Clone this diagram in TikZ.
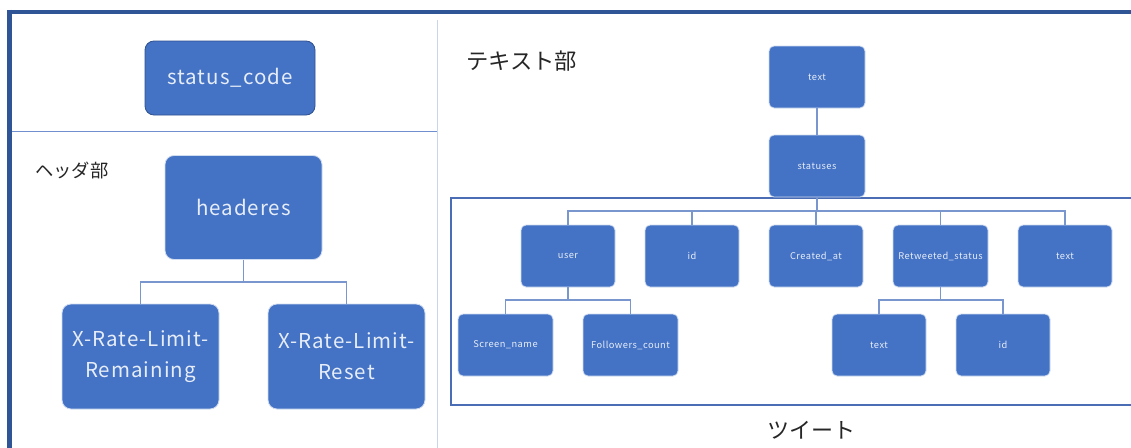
\documentclass[tikz,border=0pt]{standalone}
\usepackage{fontspec}
\setmainfont{Noto Sans CJK JP}
\newfontfamily\labfont{Noto Sans CJK JP}[LetterSpace=5]
\usetikzlibrary{calc}
\definecolor{boxfill}{HTML}{4472C4}
\definecolor{boxedge}{HTML}{2F528F}
\definecolor{frameblue}{HTML}{2F5597}
\definecolor{linkblue}{HTML}{7A96CE}
\definecolor{divlight}{HTML}{C9D5EC}
\definecolor{divmid}{HTML}{6F8FCF}
\definecolor{tweetframe}{HTML}{4A6DB5}
\definecolor{labelwhite}{HTML}{E6EDF9}
\definecolor{jptext}{HTML}{262626}
\tikzset{
  box/.style={rectangle, rounded corners=7pt, fill=boxfill, draw=white!75!boxfill, line width=0.8pt,
    text=labelwhite, align=center, inner sep=0pt},
  bigbox/.style={box, font=\labfont\fontsize{20.5}{31}\selectfont},
  smallbox/.style={box, rounded corners=5pt, minimum width=94pt, minimum height=62pt, font=\labfont\fontsize{9.3}{10}\selectfont},
  link/.style={draw=linkblue, line width=1.2pt},
  jp/.style={text=jptext, anchor=west, inner sep=0pt},
}
\begin{document}
\begin{tikzpicture}[x=1pt,y=-1pt]
\useasboundingbox (0,0) rectangle (1131,447);
\fill[white] (0,0) rectangle (1131,447);
% outer frame
\draw[frameblue, line width=4pt] (7,11.5) -- (1135,11.5);
\draw[frameblue, line width=4.5pt] (9.5,9.5) -- (9.5,450);
% dividers
\draw[divlight, line width=1.5pt] (437.5,20) -- (437.5,450);
\draw[divmid, line width=1pt] (12,131) -- (437,131);
% tweet frame
\draw[tweetframe, line width=1.4pt] (1136,198) -- (451,198) -- (451,405) -- (1136,405);

% left side
\node[bigbox, draw=boxedge, minimum width=170pt, minimum height=74pt, rounded corners=9pt] (sc) at (230,78) {status\_code};
\node[jp, font=\fontsize{18.3}{20}\selectfont] (hlab) at (35,170) {ヘッダ部};
\node[bigbox, minimum width=157pt, minimum height=104pt, rounded corners=9pt] (hd) at (243.5,207.5) {headeres};
\node[bigbox, minimum width=157pt, minimum height=105pt, rounded corners=9pt] (xr1) at (140.5,356.5) {X-Rate-Limit-\\Remaining};
\node[bigbox, minimum width=157pt, minimum height=105pt, rounded corners=9pt] (xr2) at (346.5,356.5) {X-Rate-Limit-\\Reset};
\coordinate (b1) at (0,282);
\draw[link] (hd.south) -- (hd.south |- b1);
\draw[link] (xr1.north) |- (b1 -| hd.south) -| (xr2.north);

% right side
\node[jp, font=\fontsize{22.3}{24}\selectfont] (tlab) at (466,61) {テキスト部};
\node[smallbox, minimum width=96pt] (t0) at (817,77) {text};
\node[smallbox, minimum width=96pt] (st) at (817,166) {statuses};
\draw[link] (t0.south) -- (st.north);

\node[smallbox] (us) at (568,256) {user};
\node[smallbox] (id) at (692,256) {id};
\node[smallbox] (cr) at (816,256) {Created\_at};
\node[smallbox, minimum width=95pt] (rt) at (940.5,256) {Retweeted\_status};
\node[smallbox] (tx) at (1065,256) {text};

\coordinate (b2) at (0,211);
\draw[link] (st.south) -- (st.south |- b2);
\draw[link] (us.north) |- (b2 -| tx.north) -- (tx.north);
\draw[link] (id.north) -- (id.north |- b2);
\draw[link] (cr.north) -- (cr.north |- b2);
\draw[link] (rt.north) -- (rt.north |- b2);

\node[smallbox, minimum width=95pt] (sn) at (505.5,345) {Screen\_name};
\node[smallbox, minimum width=95pt] (fc) at (630.5,345) {Followers\_count};
\node[smallbox] (rtx) at (879,345) {text};
\node[smallbox] (rid) at (1003,345) {id};

\coordinate (b3) at (0,300);
\draw[link] (us.south) -- (us.south |- b3);
\draw[link] (sn.north) |- (b3 -| fc.north) -- (fc.north);
\draw[link] (rt.south) -- (rt.south |- b3);
\draw[link] (rtx.north) |- (b3 -| rid.north) -- (rid.north);

\node[jp, font=\fontsize{22}{24}\selectfont] (tw) at (767,430) {ツイート};
\end{tikzpicture}
\end{document}
